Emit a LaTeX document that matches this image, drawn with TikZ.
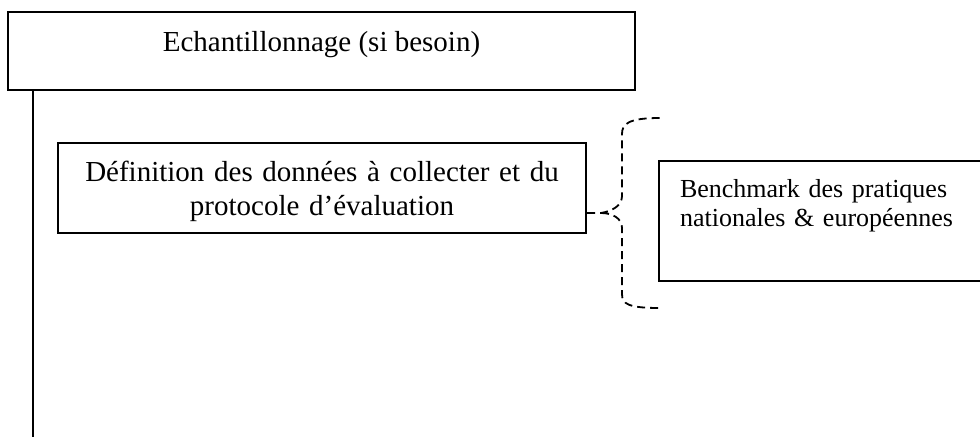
\documentclass[tikz,border=0pt]{standalone}
\usepackage{fontspec}
\setmainfont{Liberation Serif}
\usepackage{tikz}
\usetikzlibrary{positioning, calc}

\begin{document}
\begin{tikzpicture}[x=1pt, y=-1pt,
    stepbox/.style={draw, line width=2pt, inner ysep=0pt},
    bracket/.style={line width=1.8pt, dash pattern=on 8pt off 5pt}]
    \clip (0,0) rectangle (980,437);
    \node[stepbox, minimum width=627pt, text height=39pt, text depth=39pt, font={\fontsize{29pt}{34pt}\selectfont}] (echant) at (321.5,51) {Echantillonnage (si besoin)};
    \node[stepbox, anchor=north west, inner xsep=0pt, text width=528pt, align=center, text height=38pt, text depth=52pt, font={\fontsize{29pt}{34pt}\selectfont}] (def) at (57,142) {Définition des données à collecter et du\\ protocole d’évaluation};
    \node[stepbox, anchor=north west, inner xsep=21pt, text width=320pt, align=left, text height=36pt, text depth=84pt, font={\fontsize{26pt}{29pt}\selectfont}] (bench) at (658,160) {Benchmark des pratiques\\ nationales \& européennes};
    \coordinate (vend) at (33,437);
    \draw[line width=1.7pt] (echant.south -| vend) -- (vend);
    % accolade en pointilles
    \coordinate (tip) at ([yshift=-25pt]def.east);
    \coordinate (btop) at (660,118);
    \coordinate (bbot) at (660,308);
    \draw[bracket] (tip) -- ++(14,0) coordinate (bmid) .. controls (612,211) and (622,206) .. (622,196) -- (622,134) .. controls (622,124) and (628,118) .. (btop)
      (bmid) .. controls (612,213) and (622,218) .. (622,228) -- (622,294) .. controls (622,304) and (628,308) .. (bbot);
\end{tikzpicture}
\end{document}
